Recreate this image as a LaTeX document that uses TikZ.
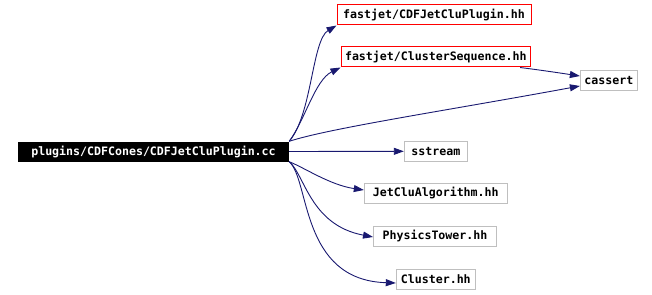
\documentclass[tikz,border=0pt]{standalone}
\usepackage{fontspec}
\setmonofont{DejaVu Sans Mono}
\usepackage{tikz}
\usetikzlibrary{arrows.meta}
\definecolor{edgeblue}{RGB}{25,25,112}
\definecolor{boxgray}{RGB}{191,191,191}

\begin{document}
\begin{tikzpicture}[x=1pt, y=-1pt, every node/.style={font=\fontsize{11.6}{13}\selectfont\ttfamily\bfseries},
	f/.style={draw=boxgray, line width=1pt, fill=white, minimum height=20pt, inner xsep=4pt, inner ysep=0pt},
	fr/.style={f, draw=red},
	src/.style={fill=black, text=white, minimum height=20pt, minimum width=271pt, inner ysep=0pt},
	e/.style={draw=edgeblue, line width=0.9pt, -{Triangle[length=10pt, width=7pt]}}]
	\useasboundingbox (0,0) rectangle (652,294);
	\node[src] (M) at (153.5,151.5) {plugins/CDFCones/CDFJetCluPlugin.cc};
	\node[fr, minimum width=194pt] (A) at (434,15) {fastjet/CDFJetCluPlugin.hh};
	\node[fr, minimum width=185pt] (B) at (435.8,57) {fastjet/ClusterSequence.hh};
	\node[f, minimum width=55pt] (C) at (608.8,81) {cassert};
	\node[f, minimum width=63pt] (S) at (435.8,151.3) {sstream};
	\node[f, minimum width=143pt] (J) at (435.8,193) {JetCluAlgorithm.hh};
	\node[f, minimum width=123pt] (P) at (435,236) {PhysicsTower.hh};
	\node[f, minimum width=79pt] (K) at (435.8,279) {Cluster.hh};
	\draw[e] (M.north east) .. controls (312,115) and (312,40) .. (A.south west);
	\draw[e] (M.north east) .. controls (305,120) and (315,80) .. (B.south west);
	\draw[e] (M.north east) .. controls (330,128) and (450,110) .. ([yshift=-5pt]C.west);
	\draw[e] ([xshift=-11pt]B.south east) .. controls (540,70) and (560,73) .. ([yshift=5pt]C.west);
	\draw[e] (M.east) -- (S.west);
	\draw[e] (M.south east) .. controls (305,168) and (330,185) .. ([yshift=3pt]J.west);
	\draw[e] (M.south east) .. controls (305,175) and (310,225) .. ([yshift=-1pt]P.west);
	\draw[e] (M.south east) .. controls (310,180) and (300,280) .. ([yshift=-4pt]K.west);
\end{tikzpicture}
\end{document}
